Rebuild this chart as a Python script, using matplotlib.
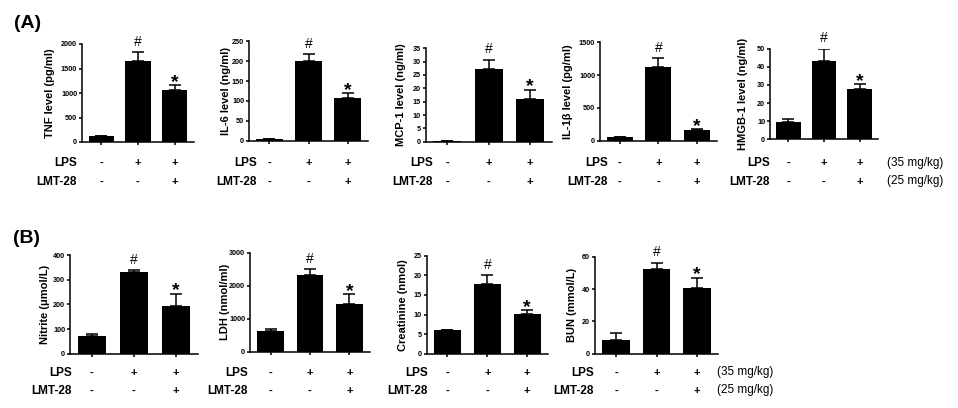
import matplotlib
matplotlib.use("Agg")
import matplotlib.pyplot as plt

plt.rcParams['font.family'] = ['Liberation Sans', 'DejaVu Sans']

W, H = 958, 408

# ---- data ----
groups_lps = ['-', '+', '+']
groups_lmt = ['-', '-', '+']

tnf = [115, 1660, 1070]
tnf_err = [0, 170, 85]
il6 = [5, 201, 108]
il6_err = [0, 16, 11]
mcp1 = [0.3, 27.2, 16.0]
mcp1_err = [0, 3.5, 3.5]
il1b = [60, 1130, 160]
il1b_err = [0, 130, 15]
hmgb1 = [9.8, 43.4, 28.0]
hmgb1_err = [1.2, 6.6, 2.3]

nitrite = [73, 330, 195]
nitrite_err = [8, 9, 47]
ldh = [636, 2313, 1434]
ldh_err = [60, 190, 300]
creat = [6.0, 17.9, 10.1]
creat_err = [0.1, 2.1, 1.0]
bun = [8.7, 52.4, 40.6]
bun_err = [4.1, 4.0, 6.4]

sig_marks = ['', '#', '*']

panels = [
    # values, errors, ylabel, ymax, ystep, (left, top, right, bottom) px, label x offset px, row-label right x px
    (tnf, tnf_err, 'TNF level (pg/ml)', 2000, 500, (82, 44, 194, 142), -27, 77),
    (il6, il6_err, 'IL-6 level (ng/ml)', 250, 50, (249, 41.3, 368, 140.7), -18, 257),
    (mcp1, mcp1_err, 'MCP-1 level (ng/ml)', 35, 5, (425.7, 48.3, 551.7, 141.7), -20, 433),
    (il1b, il1b_err, 'IL-1\u03b2 level (pg/ml)', 1500, 500, (600, 42.3, 716.7, 140.7), -27, 608),
    (hmgb1, hmgb1_err, 'HMGB-1 level (ng/ml)', 50, 10, (770, 48.7, 878, 139.3), -22, 770),
    (nitrite, nitrite_err, 'Nitrite (\u03bcmol/L)', 400, 100, (70, 255, 198, 353.7), -20, 72),
    (ldh, ldh_err, 'LDH (nmol/ml)', 3000, 1000, (250, 252.7, 370, 351.7), -20, 248),
    (creat, creat_err, 'Creatinine (nmol)', 25, 5, (426.7, 255.7, 548, 353.7), -19, 428),
    (bun, bun_err, 'BUN (mmol/L)', 60, 20, (595, 256.7, 718, 353.7), -18, 594),
]

fig = plt.figure(figsize=(W / 100, H / 100), dpi=100)

def px_rect(l, t, r, b):
    return [l / W, 1 - b / H, (r - l) / W, (b - t) / H]

lw = 1.1
for i, (vals, errs, ylab, ymax, ystep, (l, t, r, b), lab_off, row_x) in enumerate(panels):
    ax = fig.add_axes(px_rect(l, t, r, b))
    x = [0, 1, 2]
    ax.bar(x, vals, width=0.68, color='black', zorder=2)
    ax.errorbar(x, vals, yerr=[[0, 0, 0], errs], fmt='none', ecolor='black',
                elinewidth=lw, capsize=4.5, capthick=lw, zorder=1)
    ax.set_xlim(-0.52, 2.52)
    ax.set_ylim(0, ymax)
    ticks = list(range(0, ymax + 1, ystep))
    ax.set_yticks(ticks)
    ax.set_yticklabels([str(v) for v in ticks], fontsize=5.2, fontweight='bold')
    ax.set_xticks(x)
    ax.set_xticklabels([])
    for s in ['top', 'right']:
        ax.spines[s].set_visible(False)
    for s in ['left', 'bottom']:
        ax.spines[s].set_linewidth(lw)
    ax.tick_params(axis='both', direction='out', length=2.5, width=lw, pad=1)
    ax.set_ylabel(ylab, fontsize=8, fontweight='bold')
    ax.yaxis.set_label_coords(lab_off / (r - l), 0.5)
    for j in range(3):
        m = sig_marks[j]
        if not m:
            continue
        top = vals[j] + errs[j]
        if m == '#':
            ax.annotate(m, (x[j], top), xytext=(0, 2.5), textcoords='offset points',
                        ha='center', va='bottom', fontsize=10)
        else:
            ax.annotate(m, (x[j], top), xytext=(0, -4), textcoords='offset points',
                        ha='center', va='bottom', fontsize=14, fontweight='bold')
    # row labels
    row_top = 163 if i < 5 else 373
    row_bot = 182 if i < 5 else 391
    for yy, name, signs in [(row_top, 'LPS', groups_lps), (row_bot, 'LMT-28', groups_lmt)]:
        fig.text(row_x / W, 1 - yy / H, name, ha='right', va='center',
                 fontsize=8.5, fontweight='bold')
        for j in range(3):
            xd = ax.transData.transform((x[j], 0))[0]
            fig.text(xd / fig.bbox.width, 1 - yy / H, signs[j], ha='center', va='center',
                     fontsize=8, fontweight='bold')

# dose labels
for xx, y1, y2 in [(887, 163, 181), (717, 372, 390)]:
    fig.text(xx / W, 1 - y1 / H, '(35 mg/kg)', ha='left', va='center', fontsize=8.5)
    fig.text(xx / W, 1 - y2 / H, '(25 mg/kg)', ha='left', va='center', fontsize=8.5)

fig.text(14 / W, 1 - 24 / H, '(A)', ha='left', va='center', fontsize=14, fontweight='bold')
fig.text(13 / W, 1 - 238 / H, '(B)', ha='left', va='center', fontsize=14, fontweight='bold')

fig.savefig('out.png', dpi=100)
